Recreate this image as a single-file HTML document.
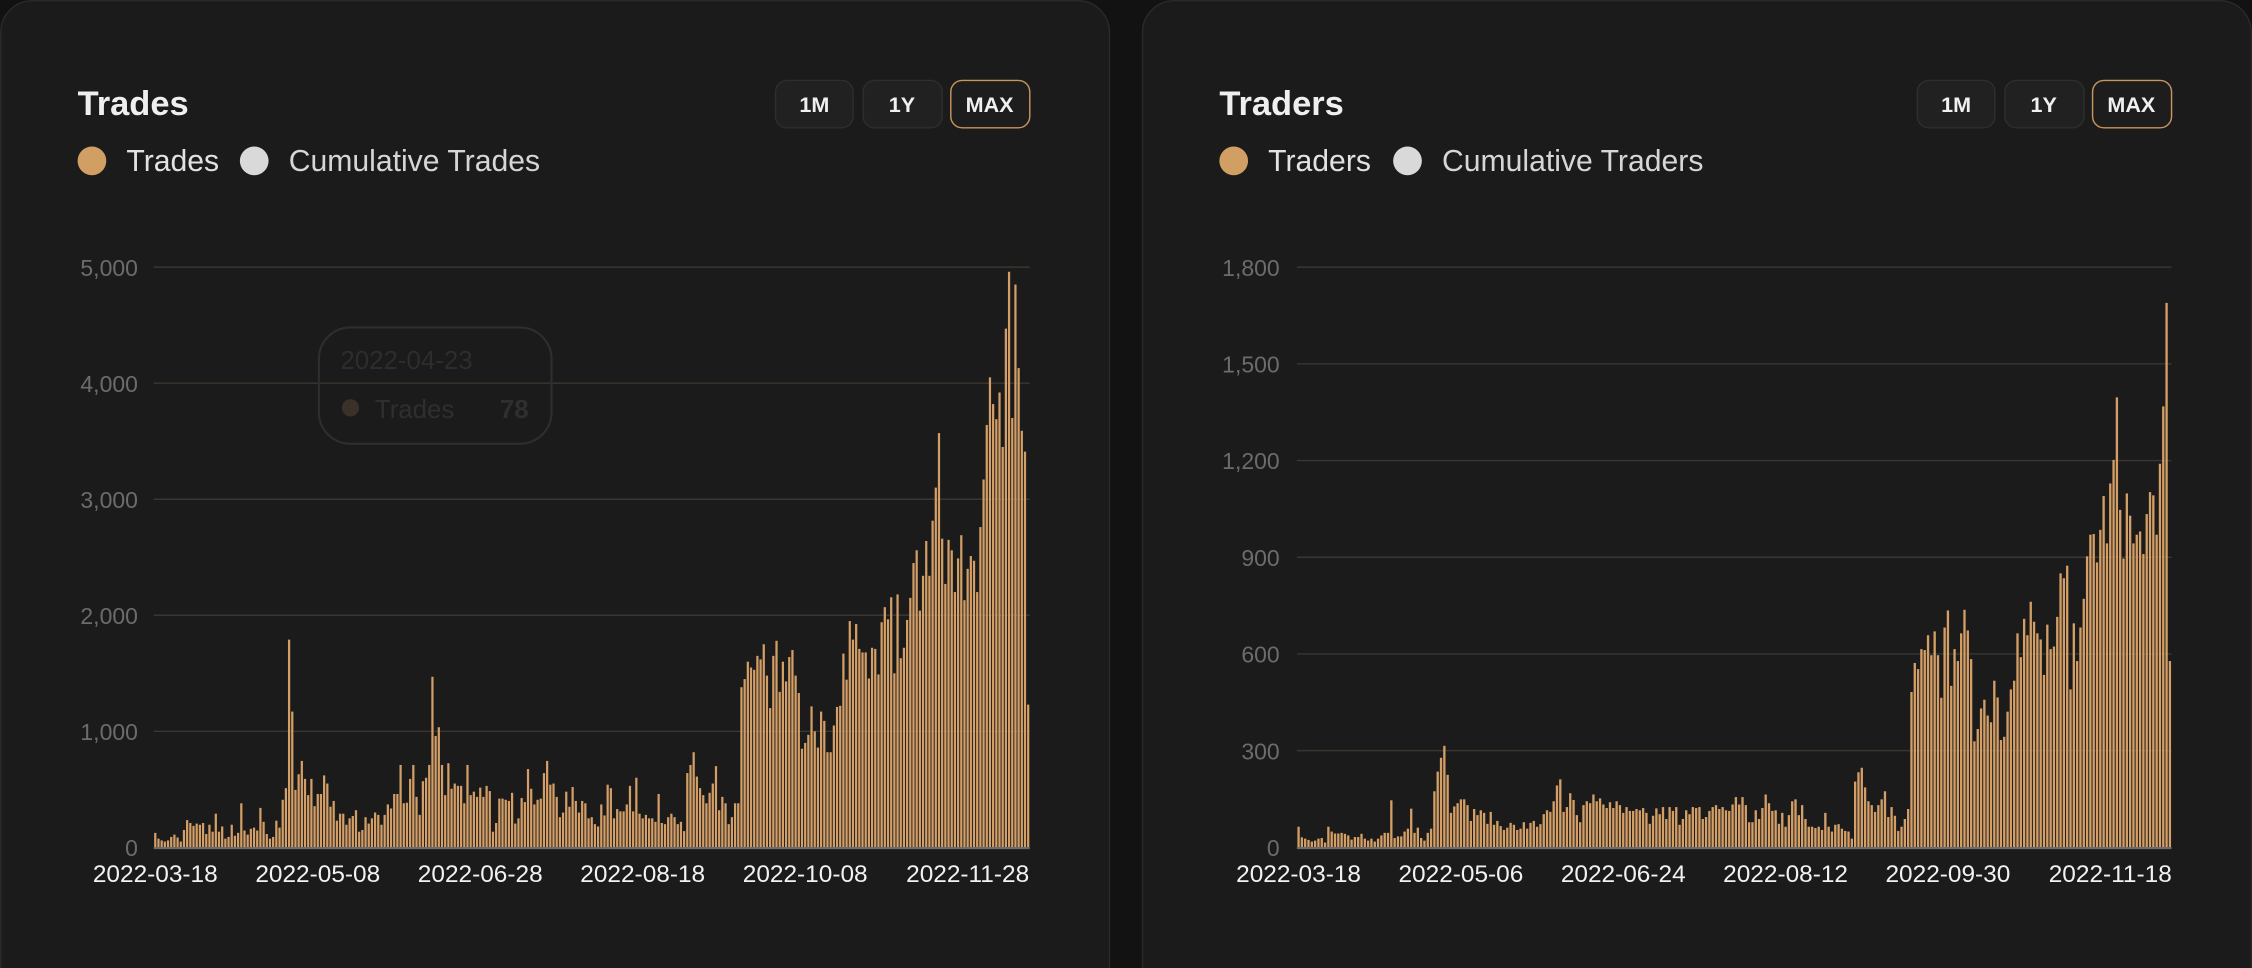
<!DOCTYPE html>
<html><head><meta charset="utf-8"><style>
html,body{margin:0;padding:0;background:#121212;}
svg{display:block;font-family:"Liberation Sans",sans-serif;}
</style></head><body>
<svg id="root" width="2252" height="968" viewBox="0 0 1568 674" xmlns="http://www.w3.org/2000/svg">
<rect x="0" y="0" width="1568" height="674" fill="#121212"/>
<g>
<rect x="0.5" y="0.5" width="772" height="700" rx="22" fill="#1b1b1b" stroke="#2a2a2a"/>
<text x="54" y="80" fill="#efefef" font-size="24" font-weight="600">Trades</text>
<g><rect x="540" y="56" width="54" height="33" rx="8" fill="#212121" stroke="#2e2e2e"/><text x="567" y="78" text-anchor="middle" fill="#f0f0f0" font-size="15" font-weight="bold">1M</text></g>
<g><rect x="601" y="56" width="55" height="33" rx="8" fill="#212121" stroke="#2e2e2e"/><text x="628" y="78" text-anchor="middle" fill="#f0f0f0" font-size="15" font-weight="bold">1Y</text></g>
<g><rect x="662" y="56" width="55" height="33" rx="8" fill="#1d1d1d" stroke="#c8955c"/><text x="689" y="78" text-anchor="middle" fill="#f0f0f0" font-size="15" font-weight="bold">MAX</text></g>
<g><circle cx="64" cy="112" r="10" fill="#d19e64"/><text x="88" y="119" fill="#e2e2e2" font-size="21">Trades</text></g>
<g><circle cx="177" cy="112" r="10" fill="#d9d9d9"/><text x="201" y="119" fill="#d6d6d6" font-size="21">Cumulative Trades</text></g>
<g id="chartL"></g>
<g>
<rect x="222" y="228" width="162" height="81" rx="22" fill="none" stroke="#2e2e2e" stroke-width="1.5"/>
<text x="237" y="257" fill="#2d2d2d" font-size="18">2022-04-23</text>
<circle cx="244" cy="284" r="6" fill="#3a3129"/>
<text x="261" y="291" fill="#2f2f2f" font-size="18">Trades</text>
<text x="348" y="291" fill="#2f2f2f" font-size="18" font-weight="bold">78</text>
</g>
</g>
<g>
<rect x="795.5" y="0.5" width="772" height="700" rx="22" fill="#1b1b1b" stroke="#2a2a2a"/>
<text x="849" y="80" fill="#efefef" font-size="24" font-weight="600">Traders</text>
<g><rect x="1335" y="56" width="54" height="33" rx="8" fill="#212121" stroke="#2e2e2e"/><text x="1362" y="78" text-anchor="middle" fill="#f0f0f0" font-size="15" font-weight="bold">1M</text></g>
<g><rect x="1396" y="56" width="55" height="33" rx="8" fill="#212121" stroke="#2e2e2e"/><text x="1423" y="78" text-anchor="middle" fill="#f0f0f0" font-size="15" font-weight="bold">1Y</text></g>
<g><rect x="1457" y="56" width="55" height="33" rx="8" fill="#1d1d1d" stroke="#c8955c"/><text x="1484" y="78" text-anchor="middle" fill="#f0f0f0" font-size="15" font-weight="bold">MAX</text></g>
<g><circle cx="859" cy="112" r="10" fill="#d19e64"/><text x="883" y="119" fill="#e2e2e2" font-size="21">Traders</text></g>
<g><circle cx="980" cy="112" r="10" fill="#d9d9d9"/><text x="1004" y="119" fill="#d6d6d6" font-size="21">Cumulative Traders</text></g>
<g id="chartR"></g>
</g>
</svg>
<script>
const tradesValues = [125,75,60,50,60,90,110,85,50,150,235,210,185,205,195,210,115,195,135,290,135,180,75,90,195,100,125,380,145,110,160,170,145,340,220,115,75,90,230,170,410,510,1790,1170,495,630,745,590,450,590,355,460,460,620,550,350,400,230,290,290,195,250,270,320,135,150,260,205,250,300,280,195,280,370,335,460,460,710,380,385,590,710,435,280,570,600,710,1470,960,1035,710,450,725,505,550,530,530,380,710,450,480,435,515,435,530,485,135,210,420,420,410,400,470,205,250,425,390,675,505,370,410,420,640,745,540,550,435,260,300,480,350,520,
400,300,400,380,250,260,200,180,370,275,540,510,250,330,310,310,370,530,310,600,290,250,280,250,250,220,460,210,200,260,290,260,200,220,140,640,710,820,610,510,450,380,470,550,700,320,435,380,200,260,380,380,
1380,1450,1600,1550,1530,1650,1620,1750,1480,1200,1650,1780,1340,1600,1430,1640,1700,1480,1330,850,900,970,1215,1000,860,1170,1090,820,820,1050,1210,1220,1670,1445,1950,1790,1925,1710,1680,1680,1455,1720,1710,1490,1940,2070,1965,2155,1500,2180,1630,1720,1960,2150,2450,2560,2040,2340,2640,2340,2815,3100,3570,2660,2270,2650,2560,2200,2490,2690,2130,2400,2510,2470,2200,2760,3170,3640,4050,3820,3690,3920,3450,4470,4960,3700,4850,4130,3590,3410,1230];
const tradesStart = '2022-03-18';
const tradesTickDates = ['2022-03-18','2022-05-08','2022-06-28','2022-08-18','2022-10-08','2022-11-28'];
const tradesYTicks = [0,1000,2000,3000,4000,5000];

const tradersValues = [64,31,27,23,18,21,27,29,15,64,49,43,43,45,42,37,24,32,32,42,27,21,27,18,27,37,45,45,146,29,34,34,49,58,120,45,61,29,21,45,58,174,235,278,315,225,107,127,137,149,149,131,82,119,100,115,107,73,110,70,82,66,54,61,76,70,54,58,78,58,76,82,64,72,103,115,110,143,192,211,110,125,168,147,100,78,131,143,137,164,143,152,133,122,140,122,143,131,107,125,113,113,119,115,122,107,73,98,121,103,125,88,125,113,125,70,88,115,103,125,122,125,88,94,113,125,
131,119,125,115,113,133,156,133,156,131,78,78,115,88,122,164,137,113,115,73,107,64,100,143,149,100,131,88,64,64,60,64,54,107,64,49,70,72,58,51,49,27,204,233,247,186,143,131,110,131,149,174,94,125,98,51,64,88,119,482,572,553,615,612,658,596,670,596,464,682,735,501,615,578,664,737,673,584,329,367,431,458,409,388,517,465,333,343,421,490,517,664,590,709,658,762,700,664,645,535,691,615,623,715,850,835,874,490,695,578,682,771,903,970,972,884,985,1090,943,1129,1202,1396,1047,896,1098,1029,943,970,980,910,1034,1102,1092,970,1190,1368,1689,578];
const tradersStart = '2022-03-18';
const tradersTickDates = ['2022-03-18','2022-05-06','2022-06-24','2022-08-12','2022-09-30','2022-11-18'];
const tradersYTicks = [0,300,600,900,1200,1500,1800];

const NS='http://www.w3.org/2000/svg';
function mk(tag,attrs,parent){const e=document.createElementNS(NS,tag);for(const k in attrs)e.setAttribute(k,attrs[k]);parent.appendChild(e);return e;}
function dayDiff(a,b){return Math.round((new Date(b)-new Date(a))/86400000);}
function fmt(v){return v.toLocaleString('en-US');}
function draw(g,cfg){
  const x0=cfg.x0,x1=cfg.x1,yTop=186,yBot=590,maxV=cfg.yTicks[cfg.yTicks.length-1];
  const n=cfg.values.length,step=(x1-x0)/n;
  const yS=v=>yBot-(v/maxV)*(yBot-yTop);
  const xS=i=>x0+i*step;
  cfg.yTicks.forEach(t=>{
    if(t>0){const l=mk('line',{x1:x0,x2:x1,y1:yS(t),y2:yS(t),stroke:'#3b362f','stroke-width':1},g);
    
    }
    const tx=mk('text',{x:cfg.labelX,y:yS(t)+6,'text-anchor':'end',fill:'#6c6c6c','font-size':16},g);
    tx.textContent=fmt(t);
    
    
  });
  cfg.values.forEach((v,i)=>{
    const r=mk('rect',{x:xS(i)+step*0.15,y:yS(v),width:step*0.7,height:yBot-yS(v),fill:'#d49f66'},g);
    
    
  });
  const ax=mk('line',{x1:x0,x2:x1,y1:yBot+0.5,y2:yBot+0.5,stroke:'#6b6b70','stroke-width':1.5},g);
  
  
  cfg.ticks.forEach(d=>{
    const x=xS(dayDiff(cfg.start,d))+step/2;
    const tx=mk('text',{x:x,y:614,'text-anchor':'middle',fill:'#f2f2f2','font-size':17},g);
    tx.textContent=d;
    
    
  });
}
draw(document.getElementById('chartL'),{x0:107,x1:717,labelX:96,values:tradesValues,start:tradesStart,ticks:tradesTickDates,yTicks:tradesYTicks});
draw(document.getElementById('chartR'),{x0:903,x1:1512,labelX:891,values:tradersValues,start:tradersStart,ticks:tradersTickDates,yTicks:tradersYTicks});
</script>
</body></html>
